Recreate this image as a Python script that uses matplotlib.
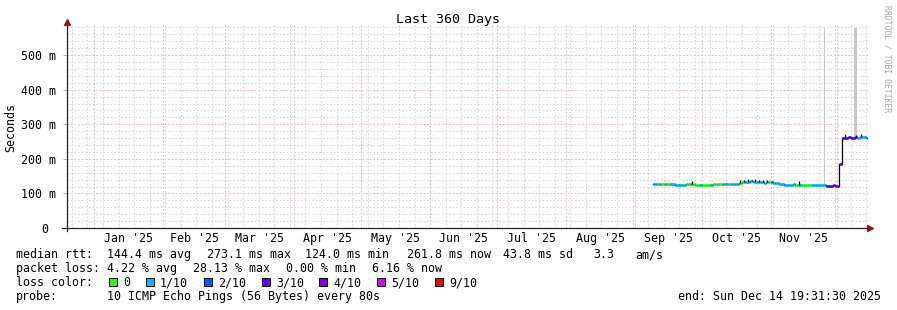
import numpy as np
import pandas as pd
import matplotlib
matplotlib.use("Agg")
import matplotlib.pyplot as plt
import matplotlib.dates as mdates
from matplotlib.patches import Rectangle

plt.rcParams['font.family'] = 'DejaVu Sans Mono'

# ---------------------------------------------------------------------
# data
# ---------------------------------------------------------------------
graph_end = pd.Timestamp("2025-12-14 19:31:30")
graph_days = 360
first_day = "2025-09-09"

# daily median rtt (ms)
rtt_ms = [127, 127, 126, 127, 127, 126, 126, 128, 126, 126, 125, 125, 125, 125, 125,
          126, 127, 126, 127, 125, 125, 125, 125, 125, 125, 125, 125, 126, 126, 126,
          126, 126, 126, 127, 126, 126, 126, 126, 127,
          131, 133, 132, 134, 133, 135, 132, 134, 133, 132, 134, 131, 132, 133, 132,
          131, 130, 129,
          126, 126, 125, 125, 124, 125, 126, 125, 125, 124, 125, 125, 125, 125, 125,
          125, 124, 125, 125, 125, 125,
          122, 122, 121, 123, 122, 122,
          186, 260, 261, 260, 262, 260, 261, 262, 261, 263, 262, 262, 261]

# daily loss level (index into loss_labels)
loss_level = ([1, 1, 0, 1] + [0, 1, 0, 0] + [1] * 7 + [0, 0, 1, 0]
              + [0, 0, 1, 0, 0, 0, 0, 1, 0, 0, 0, 0]
              + [1, 1, 1, 0, 1, 1, 1, 1] + [0, 0, 1]
              + [1, 1, 1, 0, 1, 1, 1, 1, 1, 1, 0, 1, 1, 1, 1]
              + [1] * 7 + [0, 0, 1, 0, 0, 0, 0] + [1] * 7
              + [3] * 6 + [3] * 8 + [1] * 5)

loss_labels = ["0", "1/10", "2/10", "3/10", "4/10", "5/10", "9/10"]
loss_colors = ["#26ff00", "#00b8ff", "#0059ff", "#5e00ff", "#7e00ff", "#dd00ff", "#ff0000"]

# dark smoke spikes just above the median
spike_times = ["2025-09-26 18:00", "2025-10-18 12:00", "2025-10-20 06:00", "2025-10-21 18:00",
               "2025-10-23 12:00", "2025-10-25 06:00", "2025-10-27 00:00", "2025-10-28 12:00",
               "2025-10-30 12:00", "2025-11-01 12:00", "2025-11-13 18:00", "2025-12-04 12:00",
               "2025-12-09 06:00", "2025-12-11 12:00"]
spike_top = [137, 140, 139, 141, 138, 142, 139, 140, 138, 136, 135, 273, 270, 273]

# light grey smoke (max of pings)
smoke_times = ["2025-11-25 10:00", "2025-12-09 06:00"]
smoke_base = [122, 261]
smoke_top = [578, 578]
smoke_width_days = [0.45, 1.3]

yticks = [0, 100, 200, 300, 400, 500]
month_labels = ["Jan '25", "Feb '25", "Mar '25", "Apr '25", "May '25", "Jun '25",
                "Jul '25", "Aug '25", "Sep '25", "Oct '25", "Nov '25"]

legend_rows = [
    [("median rtt:", 16), ("144.4 ms avg", 107), ("273.1 ms max", 207), ("124.0 ms min", 305),
     ("261.8 ms now", 407), ("43.8 ms sd", 503), ("3.3", 593), ("am/s", 635)],
    [("packet loss:", 16), ("4.22 % avg", 107), ("28.13 % max", 193), ("0.00 % min", 286),
     ("6.16 % now", 372)],
    [("loss color:", 16)],
    [("probe:", 16), ("10 ICMP Echo Pings (56 Bytes) every 80s", 107),
     ("end: Sun Dec 14 19:31:30 2025", 678)],
]
loss_box_x = [109, 146, 204, 262, 319, 377, 435]

# ---------------------------------------------------------------------
# figure
# ---------------------------------------------------------------------
W, H = 897, 310
fig = plt.figure(figsize=(W / 100, H / 100), dpi=100)
fig.patch.set_facecolor("white")

L, R, T, B = 67, 868, 25, 228
ax = fig.add_axes([L / W, 1 - B / H, (R - L) / W, (B - T) / H])
ax.set_facecolor("white")

t0 = graph_end - pd.Timedelta(days=graph_days)
ax.set_xlim(mdates.date2num(t0), mdates.date2num(graph_end))
ax.set_ylim(0, 587)

# grid -----------------------------------------------------------------
minor_c = "#d4d4d4"
major_c = "#f3b0b0"
dots = (0, (1.4, 2.2))
for y in range(20, 587, 20):
    if y % 100:
        ax.axhline(y, color=minor_c, lw=0.72, ls=dots, zorder=0)
for y in range(100, 587, 100):
    ax.axhline(y, color=major_c, lw=0.72, ls=dots, zorder=0)

sundays = pd.date_range(t0.normalize(), graph_end, freq="W-SUN")
for d in sundays:
    ax.axvline(mdates.date2num(d), color=minor_c, lw=0.72, ls=dots, zorder=0)
month_starts = pd.date_range(t0.normalize(), graph_end, freq="MS")
for d in month_starts:
    ax.axvline(mdates.date2num(d), color=major_c, lw=0.72, ls=dots, zorder=0)

# month labels centred in the month
mids = []
for d in pd.date_range("2025-01-01", periods=len(month_labels), freq="MS"):
    nxt = d + pd.offsets.MonthBegin(1)
    mids.append(mdates.date2num(d) + (mdates.date2num(nxt) - mdates.date2num(d)) / 2)
ax.set_xticks(mids)
ax.set_xticklabels(month_labels, fontsize=8.4)
ax.tick_params(axis="x", length=0, pad=3)

ax.set_yticks(yticks)
ax.set_yticklabels([("%d m" % v) if v else "0 " for v in yticks], fontsize=8.4)
ax.tick_params(axis="y", length=3, width=0.7, color="#bbbbbb", pad=5)

for s in ax.spines.values():
    s.set_visible(False)

# data -----------------------------------------------------------------
days = pd.date_range(first_day, periods=len(rtt_ms), freq="D")
x = mdates.date2num(days)
x_end = np.append(x[1:], mdates.date2num(pd.Timestamp("2025-12-14 12:00")))

# smoke
for t, b, top, w in zip(smoke_times, smoke_base, smoke_top, smoke_width_days):
    ax.bar(mdates.date2num(pd.Timestamp(t)), top - b, bottom=b, width=w,
           color="#c8c8c8", linewidth=0, zorder=1)

# black step line under the coloured median
ax.step(np.append(x, x_end[-1]), rtt_ms + [rtt_ms[-1]], where="post",
        color="black", lw=0.9, zorder=2)

for t, top in zip(spike_times, spike_top):
    tn = mdates.date2num(pd.Timestamp(t))
    i = min(np.searchsorted(x, tn, side="right") - 1, len(rtt_ms) - 1)
    ax.vlines(tn, rtt_ms[i], top, color="black", lw=0.9, zorder=4)

ax.hlines(rtt_ms, x, x_end, colors=[loss_colors[l] for l in loss_level], lw=2.0, zorder=3)

# axes with arrows -------------------------------------------------------
ax_line = dict(color="#222222", lw=0.9, clip_on=False, zorder=5)
ax.plot([-5 / (R - L), 1.003], [0, 0], transform=ax.transAxes, **ax_line)
ax.plot([0, 0], [-3 / (B - T), 1.015], transform=ax.transAxes, **ax_line)
ax.plot([1.003], [0], marker=">", ms=4, color="#8b1a1a", transform=ax.transAxes,
        clip_on=False, zorder=6)
ax.plot([0], [1.015], marker="^", ms=4, color="#8b1a1a", transform=ax.transAxes,
        clip_on=False, zorder=6)

# texts ------------------------------------------------------------------
def px(xp, yp):
    return xp / W, 1 - yp / H

fig.text(*px(448, 23), "Last 360 Days", fontsize=9.6, ha="center", va="baseline")
fig.text(*px(11, 127), "Seconds", fontsize=8.4, rotation=90, ha="center", va="center")
fig.text(*px(887, 59), "RRDTOOL / TOBI OETIKER", fontsize=5.8, rotation=270,
         ha="center", va="center", color="#a8a8a8")

row_y = [258, 272, 286, 300]
for row, yp in zip(legend_rows, row_y):
    for txt, xp in row:
        fig.text(*px(xp, yp), txt, fontsize=8.4, ha="left", va="baseline")

for bx, lab, col in zip(loss_box_x, loss_labels, loss_colors):
    fig.add_artist(Rectangle(px(bx, 286), 8 / W, 8 / H, transform=fig.transFigure,
                             facecolor=col, edgecolor="black", lw=0.7))
    fig.text(*px(bx + 14, 286), lab, fontsize=8.4, ha="left", va="baseline")

fig.savefig("out.png", dpi=100)
